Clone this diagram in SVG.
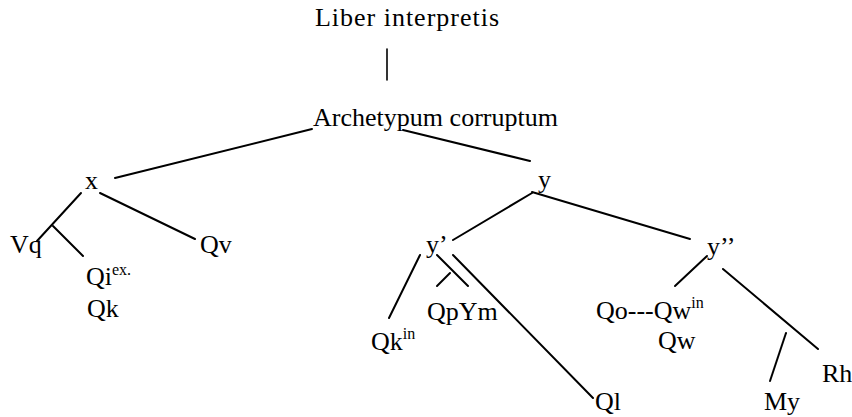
<svg xmlns="http://www.w3.org/2000/svg" width="852" height="417" viewBox="0 0 852 417">
<style>
text{font-family:"Liberation Serif","Times New Roman",serif;font-size:26px;fill:#000}
.sup{font-size:16px}
#connectors line{stroke:#000;stroke-width:2;stroke-linecap:round;fill:none}
</style>
<rect width="852" height="417" fill="#fff"/>
<g id="connectors">
<line x1="387" y1="49" x2="387" y2="80" style="stroke-width:1.6"/>
<line x1="312" y1="129" x2="115" y2="178"/>
<line x1="403" y1="130" x2="530" y2="161"/>
<line x1="81" y1="193" x2="37" y2="241"/>
<line x1="53" y1="226" x2="83" y2="256"/>
<line x1="100" y1="193" x2="195" y2="239"/>
<line x1="532" y1="193" x2="453" y2="240"/>
<line x1="532" y1="192" x2="690" y2="239"/>
<line x1="420" y1="255" x2="389" y2="318"/>
<line x1="437" y1="255" x2="468" y2="286"/>
<line x1="437" y1="286" x2="450" y2="273"/>
<line x1="453" y1="255" x2="593" y2="398"/>
<line x1="707" y1="256" x2="675" y2="286"/>
<line x1="723" y1="269" x2="818" y2="349"/>
<line x1="786" y1="333" x2="770" y2="381"/>
</g>
<g id="liber"><text x="315" y="26" textLength="184" lengthAdjust="spacing">Liber interpretis</text></g>
<g id="archetypum"><text x="313" y="126" textLength="245" lengthAdjust="spacing">Archetypum corruptum</text></g>
<g id="x"><text x="85" y="189">x</text></g>
<g id="y"><text x="538" y="188">y</text></g>
<g id="Vq"><text x="10" y="253">Vq</text></g>
<g id="Qv"><text x="200" y="253">Qv</text></g>
<g id="Qi"><text x="86" y="285">Qi<tspan class="sup" dy="-10">ex.</tspan></text><text x="87" y="317">Qk</text></g>
<g id="yprime"><text x="426" y="253">y’</text></g>
<g id="ydprime"><text x="707" y="255">y’’</text></g>
<g id="Qkin"><text x="371" y="350">Qk<tspan class="sup" dy="-11">in</tspan></text></g>
<g id="QpYm"><text x="427" y="320">QpYm</text></g>
<g id="Ql"><text x="595" y="410">Ql</text></g>
<g id="QoQw"><text x="596" y="319">Qo---Qw<tspan class="sup" dy="-11">in</tspan></text><text x="658" y="349">Qw</text></g>
<g id="Rh"><text x="822" y="382">Rh</text></g>
<g id="My"><text x="764" y="410">My</text></g>
</svg>
